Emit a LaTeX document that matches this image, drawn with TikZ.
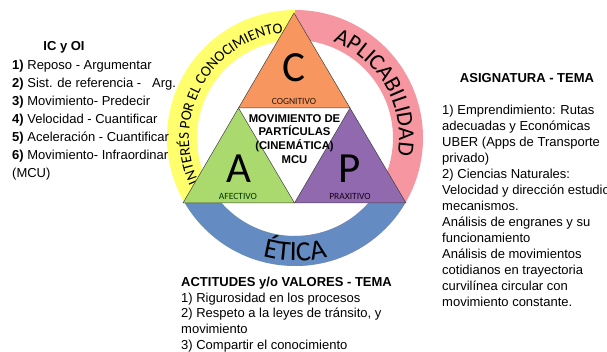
\documentclass[tikz,border=0pt]{standalone}
\usepackage{fontspec}
\setmainfont{Liberation Sans}
\newfontfamily\ringfont{Carlito}
\usetikzlibrary{decorations.text}

\definecolor{ringyellow}{RGB}{255,255,110}
\definecolor{ringpink}{RGB}{245,150,160}
\definecolor{ringblue}{RGB}{100,140,195}
\definecolor{cogorange}{RGB}{248,150,96}
\definecolor{afegreen}{RGB}{170,218,110}
\definecolor{prapurple}{RGB}{145,105,175}

\begin{document}
\begin{tikzpicture}[
    x=1pt, y=1pt,
    part/.style={draw=black!75, line width=0.5pt},
    letter/.style={font=\ringfont\fontsize{43}{43}\selectfont, inner sep=0},
    sublabel/.style={font=\ringfont\fontsize{9.5}{10}\selectfont, inner sep=0},
    heading/.style={font=\bfseries\fontsize{13}{16}\selectfont, inner sep=0},
    listtext/.style={align=left, inner sep=0, anchor=west},
    ringtext/.style={decorate, decoration={text along path, text align=center, text={#1}}}
]
\useasboundingbox (0,0) rectangle (607,352);

% ring
\begin{scope}[shift={(295,214)}]
  \begin{scope}
    \clip (-200,-200) rectangle (0,200);
    \fill[ringyellow, even odd rule] (0,0) circle[radius=128] (0,0) circle[radius=98];
  \end{scope}
  \begin{scope}
    \clip (0,-200) rectangle (200,200);
    \fill[ringpink, even odd rule] (0,0) circle[radius=128] (0,0) circle[radius=98];
  \end{scope}
  \begin{scope}
    \clip (-200,-200) rectangle (200,-65);
    \fill[ringblue, even odd rule] (0,0) circle[radius=128] (0,0) circle[radius=98];
  \end{scope}
  \path[ringtext={|\ringfont\fontsize{15}{15}\selectfont|INTERÉS POR EL CONOCIMIENTO}]
    (210.5:106) arc[start angle=210.5, end angle=90.5, radius=106];
  \path[ringtext={|\ringfont\fontsize{23}{23}\selectfont|APLICABILIDAD}]
    (89.5:104) arc[start angle=89.5, end angle=-30.5, radius=104];
  \path[ringtext={|\ringfont\fontsize{28}{28}\selectfont|ÉTICA}]
    (240:123) arc[start angle=240, end angle=300, radius=123];
\end{scope}

% triangle
\coordinate (apex) at (294,339);
\coordinate (bl) at (183,149);
\coordinate (br) at (406,149);
\coordinate (ml) at (238.5,244);
\coordinate (mr) at (350,244);
\coordinate (mb) at (294.5,149);
\filldraw[part, fill=cogorange] (apex) -- (mr) -- (ml) -- cycle;
\filldraw[part, fill=afegreen] (ml) -- (mb) -- (bl) -- cycle;
\filldraw[part, fill=prapurple] (mr) -- (br) -- (mb) -- cycle;

\node[letter] (cletter) at (294,284) {C};
\node[letter] (aletter) at (239,183) {A};
\node[letter] (pletter) at (350,183) {P};
\node[sublabel, text=black!80!brown] (cognitivo) at (294,251) {COGNITIVO};
\node[sublabel, text=black!80!green] (afectivo) at (238,156) {AFECTIVO};
\node[sublabel, text=black!80!violet] (praxitivo) at (350,156) {PRAXITIVO};

\node[align=center, inner sep=0, font=\bfseries\fontsize{11.3}{13.8}\selectfont] (topic) at (294.5,213)
  {MOVIMIENTO DE\\PARTÍCULAS\\(CINEMÁTICA)\\MCU};

% texts
\node[heading] (icoi) at (64,305) {IC y OI};
\node[listtext, font=\fontsize{13}{18}\selectfont] (icoilist) at (12,232) {%
  \textbf{1)} Reposo - Argumentar\\
  \textbf{2)} Sist. de referencia -\ \ \ Arg.\\
  \textbf{3)} Movimiento- Predecir\\
  \textbf{4)} Velocidad - Cuantificar\\
  \textbf{5)} Aceleración - Cuantificar\\
  \textbf{6)} Movimiento- Infraordinar\\
  (MCU)};

\node[heading] (asignatura) at (527,274) {ASIGNATURA - TEMA};
\node[listtext, font=\fontsize{13}{16}\selectfont] (asignaturalist) at (442,146) {%
  1) Emprendimiento: Rutas\\
  adecuadas y Económicas\\
  UBER (Apps de Transporte\\
  privado)\\
  2) Ciencias Naturales:\\
  Velocidad y dirección estudio\\
  mecanismos.\\
  Análisis de engranes y su\\
  funcionamiento\\
  Análisis de movimientos\\
  cotidianos en trayectoria\\
  curvilínea circular con\\
  movimiento constante.};

\node[listtext, font=\fontsize{13}{15.75}\selectfont] (actitudes) at (181,37.5) {%
  \textbf{ACTITUDES y/o VALORES - TEMA}\\
  1) Rigurosidad en los procesos\\
  2) Respeto a la leyes de tránsito, y\\
  movimiento\\
  3) Compartir el conocimiento};

\end{tikzpicture}
\end{document}
